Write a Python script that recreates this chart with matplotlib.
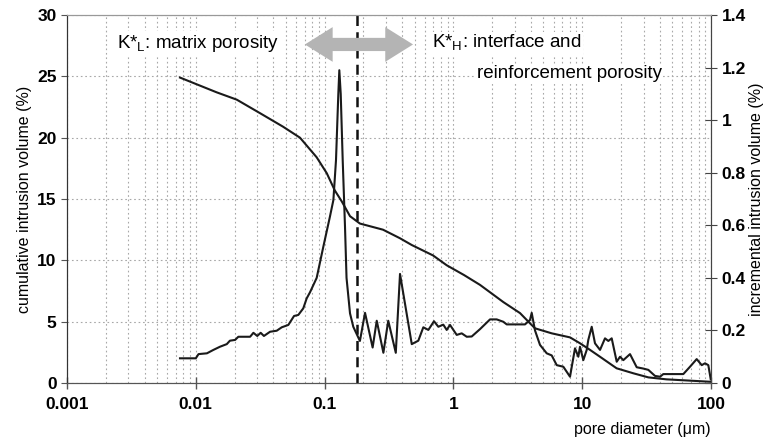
import matplotlib
matplotlib.use("Agg")
import matplotlib.pyplot as plt
from matplotlib.ticker import FixedLocator, LogLocator, NullFormatter

plt.rcParams['font.family'] = ['Liberation Sans', 'DejaVu Sans']

# cumulative intrusion volume (%) vs pore diameter (um)
cum_d = [0.00754, 0.0145, 0.0208, 0.0315, 0.0475, 0.0644, 0.0868, 0.104, 0.120,
         0.136, 0.1575, 0.188, 0.284, 0.385, 0.475, 0.695, 0.887, 1.21, 1.609,
         2.44, 3.29, 3.93, 4.30, 5.80, 8.04, 9.61, 11.5, 13.75, 18.5, 25.0,
         32.6, 45.0, 99.5]
cum_v = [24.9, 23.7, 23.1, 22.0, 20.9, 20.0, 18.4, 17.1, 15.7,
         14.8, 13.6, 13.0, 12.5, 11.8, 11.25, 10.4, 9.6, 8.8, 8.0,
         6.6, 5.7, 4.87, 4.46, 4.05, 3.72, 3.24, 2.7, 2.14, 1.2, 0.79,
         0.46, 0.3, 0.1]

# incremental intrusion volume (%)
inc_d = [0.00754, 0.0100, 0.0105, 0.0122, 0.0137, 0.0154, 0.0174, 0.0184, 0.0202,
         0.0214, 0.0264, 0.0280, 0.0300, 0.0319, 0.0338, 0.0377, 0.0425, 0.0465,
         0.0523, 0.0579, 0.0625, 0.0683, 0.0726, 0.0770, 0.0868, 0.0977, 0.110,
         0.117, 0.1226, 0.1278, 0.1301, 0.1334, 0.1382, 0.1440, 0.148, 0.1575,
         0.167, 0.188, 0.206, 0.236, 0.254, 0.286, 0.312, 0.357, 0.385, 0.475,
         0.534, 0.584, 0.639, 0.707, 0.764, 0.835, 0.887, 0.941, 1.061, 1.160,
         1.269, 1.387, 1.609, 1.924, 2.169, 2.440, 2.594, 3.597, 3.933, 4.054,
         4.300, 4.702, 5.302, 5.798, 6.339, 7.134, 8.04, 8.79, 9.33, 9.61,
         10.20, 10.84, 11.15, 11.85, 12.57, 13.75, 15.03, 15.95, 16.94, 18.53,
         19.66, 20.85, 23.50, 26.49, 29.81, 32.61, 36.75, 40.18, 42.62, 60.95,
         68.7, 77.4, 84.7, 89.8, 95.3, 99.5]
inc_v = [0.094, 0.094, 0.110, 0.113, 0.126, 0.138, 0.148, 0.161, 0.164,
         0.176, 0.176, 0.191, 0.179, 0.191, 0.179, 0.195, 0.199, 0.212,
         0.221, 0.255, 0.259, 0.284, 0.322, 0.345, 0.40, 0.518, 0.633,
         0.696, 0.848, 1.10, 1.19, 1.10, 0.848, 0.595, 0.40, 0.265,
         0.214, 0.160, 0.267, 0.135, 0.237, 0.115, 0.237, 0.115, 0.415, 0.148,
         0.161, 0.212, 0.202, 0.235, 0.214, 0.222, 0.202, 0.221, 0.183, 0.189,
         0.176, 0.177, 0.205, 0.242, 0.242, 0.233, 0.223, 0.223, 0.240, 0.267,
         0.200, 0.145, 0.113, 0.105, 0.068, 0.062, 0.024, 0.132, 0.100, 0.138,
         0.087, 0.126, 0.164, 0.214, 0.151, 0.126, 0.170, 0.160, 0.170, 0.081,
         0.100, 0.087, 0.110, 0.060, 0.055, 0.050, 0.027, 0.024, 0.034, 0.034,
         0.062, 0.091, 0.068, 0.075, 0.068, 0.014]

x_ticks = [0.001, 0.01, 0.1, 1, 10, 100]
x_labels = ['0.001', '0.01', '0.1', '1', '10', '100']
left_ticks = [0, 5, 10, 15, 20, 25, 30]
right_ticks = [0, 0.2, 0.4, 0.6, 0.8, 1.0, 1.2, 1.4]
right_labels = ['0', '0.2', '0.4', '0.6', '0.8', '1', '1.2', '1.4']
split_d = 0.18

fig = plt.figure(figsize=(7.7, 4.43), dpi=100)
ax = fig.add_axes([0.087, 0.1354, 0.8364, 0.8307])
ax2 = ax.twinx()

ax.set_xscale('log')
ax.set_xlim(0.001, 100)
ax.set_ylim(0, 30)
ax2.set_ylim(0, 1.4)

ax.xaxis.set_minor_locator(LogLocator(base=10, subs=range(2, 10)))
ax.xaxis.set_minor_formatter(NullFormatter())
ax.set_xticks(x_ticks)
ax.set_xticklabels(x_labels)
ax.set_yticks(left_ticks)
ax2.yaxis.set_major_locator(FixedLocator(right_ticks))
ax2.set_yticklabels(right_labels)

gc = '#a8a8a8'
ax.grid(True, which='both', axis='x', linestyle=(0, (1.5, 2.5)), color=gc, lw=0.8)
ax.grid(True, which='major', axis='y', linestyle=(0, (1.5, 2.5)), color=gc, lw=0.8)
ax.set_axisbelow(True)

ax.plot(cum_d, cum_v, color='#1a1a1a', lw=1.5)
ax2.plot(inc_d, inc_v, color='#1a1a1a', lw=1.5)
ax.axvline(split_d, color='#111111', lw=1.8, linestyle=(0, (4, 2.5)))

for a in (ax, ax2):
    a.spines['top'].set_color('#999999')
    a.spines['left'].set_color('#333333')
    a.spines['bottom'].set_color('#555555')
    a.spines['right'].set_color('#444444')

ax.tick_params(axis='x', which='major', direction='inout', length=8, width=1,
               labelsize=12.5, pad=6, color='#555555')
ax.tick_params(axis='x', which='minor', length=0)
ax.tick_params(axis='y', direction='out', length=4, labelsize=12.5, color='#555555')
ax2.tick_params(axis='y', direction='inout', length=8, labelsize=12.5, color='#444444')
for lab in ax.get_xticklabels() + ax.get_yticklabels() + ax2.get_yticklabels():
    lab.set_fontweight('bold')

ax.set_ylabel('cumulative intrusion volume (%)', fontsize=11.5, labelpad=4)
ax2.set_ylabel('incremental intrusion volume (%)', fontsize=11.5, labelpad=2)
ax.set_xlabel('pore diameter (\u03bcm)', fontsize=11.5)
ax.xaxis.set_label_coords(0.894, -0.105)

tb = dict(facecolor='white', edgecolor='none', pad=1)
ax.text(0.00244, 27.7, r'K*$_{\mathregular{L}}$: matrix porosity', fontsize=13.5,
        ha='left', va='center', bbox=tb)
ax.text(0.68, 27.7, r'K*$_{\mathregular{H}}$: interface and', fontsize=13.5,
        ha='left', va='center', bbox=tb)
ax.text(1.52, 25.2, 'reinforcement porosity', fontsize=13.5,
        ha='left', va='center', bbox=tb)

# double-headed grey arrow across the split line
ax.annotate('', xy=(0.0703, 27.6), xytext=(0.486, 27.6),
            arrowprops=dict(arrowstyle='<|-|>,head_length=0.8,head_width=0.5',
                            lw=0, color='#b4b4b4', mutation_scale=25, shrinkA=0, shrinkB=0))
ax.annotate('', xy=(0.0703, 27.6), xytext=(0.486, 27.6),
            arrowprops=dict(arrowstyle='-', lw=9.5, color='#b4b4b4',
                            shrinkA=16, shrinkB=16))

fig.savefig('out.png', dpi=100)
